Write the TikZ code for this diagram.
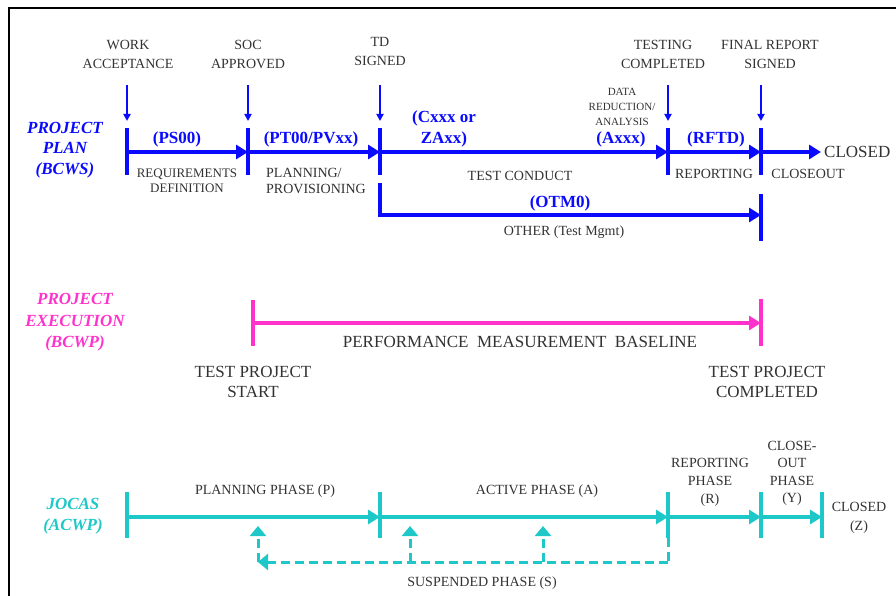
\documentclass[tikz,border=0pt]{standalone}
\usepackage{fontspec}
\setmainfont{Liberation Serif}
\usetikzlibrary{arrows.meta}
\definecolor{pblue}{RGB}{10,10,255}
\definecolor{pmag}{RGB}{255,51,204}
\definecolor{pcyan}{RGB}{30,200,200}
\definecolor{txt}{RGB}{50,50,50}
\tikzset{
  lbl/.style={text=txt, inner sep=0pt, align=center, font=\fontsize{14}{19}\selectfont},
  lblbig/.style={text=txt, inner sep=0pt, align=center, font=\fontsize{17}{20}\selectfont},
  bcode/.style={text=pblue, inner sep=0pt, align=center, font=\bfseries\fontsize{17}{21}\selectfont},
  rowlab/.style={inner sep=0pt, align=center, font=\bfseries\itshape\fontsize{17}{20.5}\selectfont},
  tickline/.style={line width=3.8pt},
  mainarrow/.style={line width=3.6pt, -{Triangle[length=12pt,width=14pt]}},
  msarrow/.style={line width=2pt, pblue, -{Triangle[length=7pt,width=7pt]}},
  dsh/.style={line width=3pt, pcyan, dash pattern=on 9pt off 5pt},
  dshtip/.style={dsh, -{Triangle[length=10pt,width=16pt]}}
}
\begin{document}
\begin{tikzpicture}[x=1pt,y=-1pt]
\useasboundingbox (0,0) rectangle (896,596);
% frame
\coordinate (F1) at (9,597);
\coordinate (F2) at (9,8);
\coordinate (F3) at (897,8);
\draw[line width=2.5pt, black] (F1) -- (F2) -- (F3);

% ---------------- PROJECT PLAN ----------------
\node[rowlab, text=pblue] (plan) at (65,150) {PROJECT\\PLAN\\(BCWS)};
\foreach \n/\x in {1/127,2/248,3/380,4/668,5/761}{
  \coordinate (P\n) at (\x,152);
  \coordinate (P\n t) at (\x,128);
  \coordinate (P\n b) at (\x,175);
  \coordinate (M\n a) at (\x,85);
  \coordinate (M\n b) at (\x,121);
}
\foreach \n in {1,...,5}{
  \draw[tickline, pblue] (P\n t) -- (P\n b);
  \draw[msarrow] (M\n a) -- (M\n b);
}
\node[lblbig, anchor=west, inner sep=3pt] (closed) at (821,152) {CLOSED};
\draw[mainarrow, pblue] (P1) -- (P2);
\draw[mainarrow, pblue] (P2) -- (P3);
\draw[mainarrow, pblue] (P3) -- (P4);
\draw[mainarrow, pblue] (P4) -- (P5);
\draw[mainarrow, pblue] (P5) -- (closed.west);

% OTM0 branch
\coordinate (O1) at (380,183);
\coordinate (O2) at (761,215);
\coordinate (O2t) at (761,194);
\coordinate (O2b) at (761,241);
\draw[tickline, pblue] (O2t) -- (O2b);
\draw[mainarrow, pblue] (O1) |- (O2);

% milestone labels
\node[lbl] (wa) at (128,54.5) {WORK\\ACCEPTANCE};
\node[lbl] (soc) at (248,54.5) {SOC\\APPROVED};
\node[lbl] (tds) at (380,51) {TD\\SIGNED};
\node[lbl] (tcomp) at (663,54.5) {TESTING\\COMPLETED};
\node[lbl] (frs) at (770,54) {FINAL REPORT\\SIGNED};

% codes
\node[bcode] (ps) at (177,139) {(PS00)};
\node[bcode] (pt) at (311,139) {(PT00/PVxx)};
\node[bcode] (cx) at (444,128.5) {(Cxxx or\\ZAxx)};
\node[bcode] (ax) at (621,139) {(Axxx)};
\node[bcode] (rf) at (716,139) {(RFTD)};
\node[bcode] (ot) at (560,203) {(OTM0)};
\node[lbl, font=\fontsize{11}{15}\selectfont] (data) at (622,107) {DATA\\REDUCTION/\\ANALYSIS};

% phase labels
\node[lbl, font=\fontsize{13}{15}\selectfont] (req) at (187,180.5) {REQUIREMENTS\\DEFINITION};
\node[lbl, align=left, anchor=west, font=\fontsize{14}{16}\selectfont] (prov) at (266,181) {PLANNING/\\PROVISIONING};
\node[lbl] (tcond) at (520,176) {TEST CONDUCT};
\node[lbl] (rep) at (714,174) {REPORTING};
\node[lbl] (clo) at (808,174) {CLOSEOUT};
\node[lbl] (oth) at (564,232) {OTHER (Test Mgmt)};

% ---------------- PROJECT EXECUTION ----------------
\node[rowlab, text=pmag, font=\bfseries\itshape\fontsize{17}{21.5}\selectfont] (exec) at (75,322.5) {PROJECT\\EXECUTION\\(BCWP)};
\coordinate (E1) at (253,323);
\coordinate (E2) at (761,323);
\coordinate (E1t) at (253,300);
\coordinate (E1b) at (253,346);
\coordinate (E2t) at (761,299);
\coordinate (E2b) at (761,346);
\draw[tickline, pmag] (E1t) -- (E1b);
\draw[tickline, pmag] (E2t) -- (E2b);
\draw[mainarrow, pmag] (E1) -- (E2);
\node[lblbig] (pmb) at (520,342) {PERFORMANCE\ \ MEASUREMENT\ \ BASELINE};
\node[lblbig] (tps) at (253,382) {TEST PROJECT\\START};
\node[lblbig] (tpc) at (767,382) {TEST PROJECT\\COMPLETED};

% ---------------- JOCAS ----------------
\node[rowlab, text=pcyan, font=\bfseries\itshape\fontsize{17}{21}\selectfont] (jocas) at (73,516.5) {JOCAS\\(ACWP)};
\foreach \n/\x in {1/127,2/380,3/668,4/761,5/822}{
  \coordinate (J\n) at (\x,517);
  \coordinate (J\n t) at (\x,492);
  \coordinate (J\n b) at (\x,538);
}
\foreach \n in {1,...,5}{
  \draw[tickline, pcyan] (J\n t) -- (J\n b);
}
\draw[mainarrow, pcyan] (J1) -- (J2);
\draw[mainarrow, pcyan] (J2) -- (J3);
\draw[mainarrow, pcyan] (J3) -- (J4);
\draw[mainarrow, pcyan] (J4) -- (J5);

\node[lbl] (pp) at (265,491) {PLANNING PHASE (P)};
\node[lbl] (ap) at (537,491) {ACTIVE PHASE (A)};
\node[lbl, font=\fontsize{14}{18}\selectfont] (rp) at (710,482) {REPORTING\\PHASE\\(R)};
\node[lbl, font=\fontsize{14}{17.5}\selectfont] (cp) at (792,473.5) {CLOSE-\\OUT\\PHASE\\(Y)};
\node[lbl] (cz) at (859,517.5) {CLOSED\\(Z)};
\node[lbl] (sp) at (482,583) {SUSPENDED PHASE (S)};

% suspended loop
\coordinate (S1) at (668,562);
\coordinate (S2) at (258,562);
\coordinate (S3) at (258,526);
\coordinate (Sa) at (410,562);
\coordinate (Sat) at (410,526);
\coordinate (Sb) at (543,562);
\coordinate (Sbt) at (543,526);
\draw[dsh] (J3b) -- (S1);
\draw[dshtip] (S1) -- (S2);
\draw[dshtip] (S2) -- (S3);
\draw[dshtip] (Sa) -- (Sat);
\draw[dshtip] (Sb) -- (Sbt);
\end{tikzpicture}
\end{document}
